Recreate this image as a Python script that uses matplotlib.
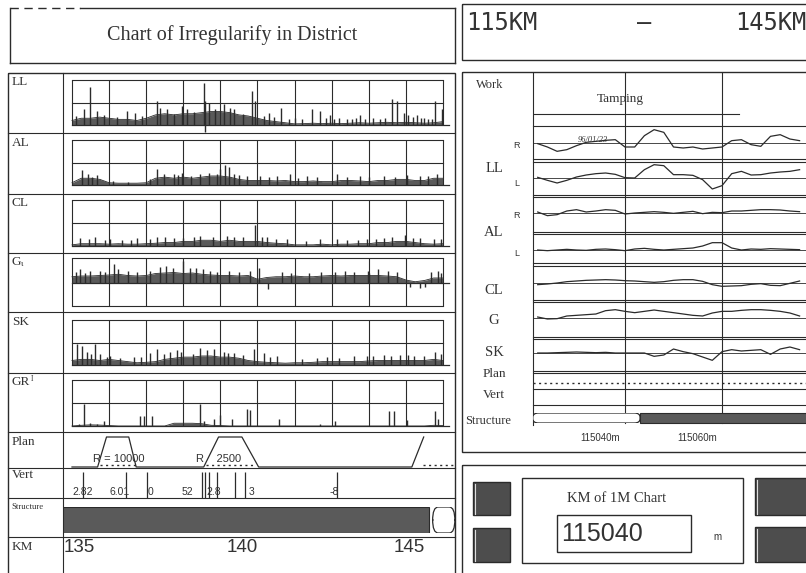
import matplotlib.pyplot as plt
import numpy as np
from matplotlib.patches import Rectangle, FancyBboxPatch

# ---------------- data ----------------
# left side: 135 km - 145 km, envelope sampled every 0.25 km
km_base = np.linspace(135, 145, 41)
km_ticks = np.arange(135, 146)

ll_base = [0.2, 0.3, 0.3, 0.35, 0.3, 0.25, 0.25, 0.2, 0.3, 0.45, 0.5, 0.45, 0.5, 0.5,
           0.55, 0.6, 0.6, 0.55, 0.45, 0.4, 0.3, 0.2, 0.15, 0.1, 0.05, 0.06, 0.08, 0.06,
           0.08, 0.06, 0.08, 0.1, 0.08, 0.1, 0.12, 0.1, 0.12, 0.1, 0.08, 0.1, 0.15]
ll_spike_km = [135.31, 135.48, 135.67, 136.48, 136.71, 137.29, 137.38, 137.56, 137.96,
               138.10, 138.55, 138.59, 138.59, 138.68, 139.09, 139.27, 139.36, 139.85,
               139.94, 140.17, 140.30, 140.62, 141.0, 141.2, 141.47, 141.69, 141.96,
               142.2, 142.4, 142.55, 142.77, 143.1, 143.3, 143.63, 143.76, 143.94,
               144.07, 144.30, 144.5, 144.6, 144.79, 144.97,
               135.1, 135.85, 136.2, 136.9, 137.75, 138.3, 138.85, 139.6, 140.45,
               140.85, 141.85, 142.05, 142.65, 142.9, 143.45, 144.2, 144.4, 144.7]
ll_spike_h = [0.69, 1.69, 0.62, 0.62, 0.54, 1.08, 0.77, 0.69, 0.85,
              0.69, 1.85, 1.08, -0.3, 1.0, 0.92, 0.77, 0.69, 1.49,
              1.08, 0.38, 0.54, 0.77, 0.3, 0.25, 0.69, 0.62, 0.46,
              0.3, 0.25, 0.25, 0.46, 0.3, 0.25, 1.15, 1.08, 0.54,
              0.46, 0.46, 0.3, 0.25, 1.08, 0.69,
              0.4, 0.45, 0.35, 0.4, 0.5, 0.6, 0.7, 0.5, 0.35,
              0.25, 0.3, 0.25, 0.3, 0.25, 0.3, 0.35, 0.3, 0.25]

al_base = [0.1, 0.3, 0.3, 0.25, 0.1, 0.08, 0.08, 0.08, 0.1, 0.3, 0.35, 0.3, 0.35, 0.3,
           0.35, 0.4, 0.4, 0.35, 0.25, 0.2, 0.2, 0.2, 0.18, 0.2, 0.15, 0.15, 0.18, 0.15,
           0.15, 0.2, 0.2, 0.18, 0.15, 0.2, 0.2, 0.25, 0.25, 0.2, 0.2, 0.3, 0.3]
al_spike_km = [135.27, 135.42, 135.67, 137.29, 137.47, 137.74, 137.96, 138.46, 138.68,
               139.00, 139.13, 139.22, 139.36, 139.72, 140.08, 140.53, 140.88, 141.33,
               142.14, 142.77, 143.40, 144.03, 144.39, 144.84,
               135.55, 136.1, 136.5, 137.1, 137.85, 138.2, 138.9, 139.5, 140.3,
               141.1, 141.6, 142.4, 143.0, 143.7, 144.6]
al_spike_h = [0.65, 0.5, 0.45, 0.73, 0.5, 0.5, 0.55, 0.5, 0.55,
              0.73, 0.9, 0.8, 0.5, 0.4, 0.4, 0.4, 0.5, 0.4,
              0.5, 0.4, 0.4, 0.45, 0.4, 0.5,
              0.35, 0.2, 0.15, 0.25, 0.45, 0.4, 0.5, 0.45, 0.35,
              0.3, 0.35, 0.35, 0.35, 0.35, 0.4]

cl_base = [0.05, 0.1, 0.1, 0.1, 0.08, 0.1, 0.08, 0.08, 0.1, 0.12, 0.15, 0.15, 0.2, 0.2,
           0.25, 0.25, 0.2, 0.25, 0.2, 0.2, 0.2, 0.15, 0.12, 0.1, 0.05, 0.05, 0.05, 0.08,
           0.05, 0.08, 0.08, 0.1, 0.1, 0.15, 0.15, 0.2, 0.2, 0.15, 0.1, 0.08, 0.1]
cl_spike_km = [135.22, 135.45, 135.63, 136.03, 136.35, 136.75, 137.29, 137.52, 137.74,
               138.46, 139.18, 139.36, 139.94, 140.12, 140.26, 140.80, 141.69, 142.14,
               142.95, 143.40, 143.63, 143.98, 144.39, 144.75,
               135.9, 136.6, 137.1, 138.0, 138.3, 138.8, 139.6, 140.5, 141.3,
               142.4, 142.7, 143.2, 144.2, 144.95]
cl_spike_h = [0.35, 0.3, 0.4, 0.3, 0.25, 0.35, 0.4, 0.4, 0.35,
              0.45, 0.45, 0.4, 0.9, 0.4, 0.4, 0.3, 0.3, 0.3,
              0.3, 0.35, 0.4, 0.5, 0.35, 0.3,
              0.25, 0.25, 0.3, 0.35, 0.4, 0.4, 0.4, 0.3, 0.2,
              0.25, 0.25, 0.3, 0.35, 0.3]

g_base = [0.25, 0.28, 0.28, 0.3, 0.32, 0.35, 0.3, 0.28, 0.3, 0.38, 0.4, 0.42, 0.38, 0.4,
          0.35, 0.32, 0.3, 0.3, 0.28, 0.3, 0.15, 0.22, 0.25, 0.25, 0.28, 0.25, 0.25, 0.28,
          0.3, 0.28, 0.3, 0.3, 0.3, 0.3, 0.28, 0.25, 0.12, 0.05, 0.1, 0.2, 0.2]
g_spike_km = [135.22, 135.49, 135.76, 136.12, 136.25, 136.74, 137.37, 137.54, 137.72,
              137.99, 138.17, 138.53, 138.71, 139.24, 140.04, 140.29, 140.67, 141.38,
              142.10, 142.37, 142.99, 143.26, 143.53, 143.75, 144.11, 144.38, 144.51,
              144.69, 144.87,
              135.1, 135.35, 135.9, 136.5, 137.1, 138.35, 138.9, 139.5, 139.8,
              140.9, 141.7, 142.6, 143.0, 144.95]
g_spike_h = [0.55, 0.5, 0.5, 0.75, 0.55, 0.45, 0.65, 0.7, 0.6,
             0.87, 0.6, 0.55, 0.5, 0.5, 0.6, -0.25, 0.45, 0.4,
             0.45, 0.5, 0.5, 0.55, 0.5, 0.45, -0.15, -0.2, -0.15,
             0.45, 0.5,
             0.45, 0.4, 0.45, 0.5, 0.5, 0.6, 0.45, 0.45, 0.5,
             0.4, 0.45, 0.45, 0.4, 0.4]

sk_base = [0.2, 0.25, 0.25, 0.2, 0.25, 0.2, 0.15, 0.1, 0.12, 0.15, 0.25, 0.3, 0.35, 0.35,
           0.4, 0.4, 0.35, 0.35, 0.3, 0.2, 0.15, 0.12, 0.1, 0.08, 0.1, 0.1, 0.12, 0.15,
           0.15, 0.15, 0.15, 0.15, 0.18, 0.2, 0.2, 0.2, 0.2, 0.2, 0.2, 0.25, 0.2]
sk_spike_km = [135.13, 135.27, 135.40, 135.63, 135.76, 136.03, 136.66, 137.11, 137.29,
               137.47, 137.65, 137.83, 138.46, 138.64, 138.82, 139.09, 139.36, 139.90,
               140.17, 140.53, 141.87, 142.59, 142.95, 143.40, 143.85, 144.21, 144.79,
               135.5, 135.95, 136.3, 136.85, 137.95, 138.25, 139.2, 139.6, 140.35,
               141.2, 141.6, 142.2, 143.1, 143.6, 144.05, 144.5, 144.95]
sk_spike_h = [0.95, 0.85, 0.6, 0.95, 0.5, 0.4, 0.35, 0.55, 0.7,
              0.5, 0.6, 0.65, 0.75, 0.65, 0.7, 0.6, 0.55, 0.7,
              0.55, 0.4, 0.35, 0.4, 0.4, 0.45, 0.45, 0.4, 0.6,
              0.5, 0.35, 0.3, 0.35, 0.6, 0.5, 0.55, 0.45, 0.35,
              0.25, 0.3, 0.3, 0.4, 0.4, 0.45, 0.4, 0.5]

gr_base = [0, 0.03, 0.05, 0.04, 0.02, 0, 0, 0, 0, 0, 0, 0.12, 0.12, 0.12,
           0.1, 0.03, 0.02, 0, 0, 0, 0, 0, 0, 0, 0, 0, 0, 0,
           0, 0, 0, 0, 0, 0, 0, 0, 0, 0, 0, 0.03, 0.02]
gr_spike_km = [135.18, 135.31, 135.49, 135.67, 135.85, 136.84, 136.95, 137.16, 138.44,
               138.55, 138.82, 139.00, 139.31, 139.72, 139.79, 140.57, 141.69, 142.10,
               143.54, 143.67, 144.03, 144.79, 144.86]
gr_spike_h = [0.1, 0.97, 0.12, 0.1, 0.2, 0.45, 0.45, 0.45, 0.97,
              0.2, 0.3, 0.5, 0.3, 0.74, 0.7, 0.3, 0.1, 0.2,
              0.66, 0.66, 0.28, 0.66, 0.3]

# plan (curvature) profile
plan_km = [135.0, 135.69, 135.93, 136.53, 136.73, 138.55, 138.95, 139.58, 140.03, 144.16, 144.48]
plan_lv = [0, 0, 1, 1, 0, 0, 1, 1, 0, 0, 1]
plan_dot_start = [135.75, 138.62, 144.45]
plan_dot_end = [136.75, 139.95, 145.3]
plan_radius = ['R = 10000', 'R    2500']
plan_radius_km = [136.25, 138.95]

# vertical (grade) changes
vert_km = [135.30, 136.46, 137.02, 138.50, 138.58, 138.70, 138.91, 139.39, 139.66, 142.14]
vert_labels = ['2.82', '6.01', '0', '52', '2.8', '3', '-8']
vert_label_km = [135.0, 136.02, 137.05, 137.96, 138.62, 139.77, 141.95]

# structure
struct_solid = (134.76, 144.62)
struct_open = (144.72, 145.32)

km_labels = ['135', '140', '145']

# right side: 1 m chart, 115022 m - 115076 m every 2 m
right_m = np.arange(115022, 115077, 2)
ll_r = [-0.2, -1.2, -2.5, -2.0, -0.8, 0.2, 0.5, 0.8, 1.0, -1.2, -1.2, 2.2, 4.0, 3.2,
        -1.2, -1.5, -1.2, -1.8, -1.5, -1.2, 0.7, 1.0, -0.5, -1.0, 2.0, 2.5, 1.2, 0.7]
ll_l = [0.2, -0.7, -1.5, -0.7, 0.3, 0.9, 1.3, 1.5, 1.1, 0.1, 0.0, 2.5, 4.0, 3.7,
        1.0, 1.0, 0.8, -0.5, -3.3, -2.3, 1.3, 2.0, 0.9, 1.0, 1.5, 1.8, 2.0, 2.5]
al_r = [0.3, -0.8, -0.5, 0.6, 1.0, 0.3, 0.6, 1.0, 0.8, -0.3, 0.0, 0.2, 0.4, 0.2,
        -0.1, 0.2, 0.5, -0.2, 0.2, 0.1, 0.6, 0.6, 0.8, 1.0, 1.0, 0.9, 0.6, 0.4]
al_l = [0.0, -0.2, 0.0, 0.2, 0.0, -0.1, 0.2, 0.3, 0.1, -0.2, 0.3, 0.5, 0.2, 0.0,
        0.2, 0.4, 0.6, 1.2, 2.2, 2.2, 0.6, 0.0, 0.3, 0.2, 0.4, 0.3, 0.2, 0.1]
cl_1m = [-0.5, -0.3, 0.0, 0.4, 0.6, 0.8, 0.9, 1.0, 0.9, 0.7, 0.6, 0.4, 0.2, 0.4,
         0.8, 1.0, 1.0, 0.5, -0.5, -1.0, -0.9, -0.8, -0.4, -0.2, -0.7, -0.8, -0.1, 0.6]
g_1m = [0.3, -0.3, -0.2, 0.6, 0.8, 1.0, 1.2, 2.2, 2.5, 2.0, 1.6, 2.0, 2.4, 2.0,
        1.6, 1.2, 0.8, 0.6, 1.5, 2.0, 2.0, 2.3, 2.5, 2.5, 2.3, 2.0, 1.5, 0.6]
sk_1m = [0.0, 0.0, 0.1, 0.2, 0.3, 0.2, 0.1, 0.2, 0.0, 0.0, 0.0, 0.0, -1.0, -0.6,
         1.2, 0.4, -0.2, -1.2, -2.2, 0.4, 1.0, 0.6, 0.8, 1.0, -0.4, 1.2, 1.8, 1.0]
right_grid = [115040, 115060]
work_name = 'Tamping'
work_date = '96/01/23'
work_span = (115021.0, 115063.5)
right_open = (115021.0, 115043.1)
right_solid = (115043.1, 115078.0)
chart_km = '115040'

# ---------------- drawing ----------------
W, H = 806, 573
ink = '#2b2b2b'
shade = '#5a5a5a'
txt = '#333333'
SERIF = 'Liberation Serif'
SANS = 'Liberation Sans'
MONO = 'DejaVu Sans Mono'

fig = plt.figure(figsize=(W / 100, H / 100), dpi=100)
fig.patch.set_facecolor('white')
bg = fig.add_axes([0, 0, 1, 1])
bg.set_xlim(0, W)
bg.set_ylim(H, 0)
bg.axis('off')


def box(x0, y0, x1, y1, lw=1.0, fc='none', ec=ink):
    bg.add_patch(Rectangle((x0, y0), x1 - x0, y1 - y0, fc=fc, ec=ec, lw=lw))


def hl(y, x0, x1, lw=0.8, ls='-'):
    bg.plot([x0, x1], [y, y], color=ink, lw=lw, ls=ls)


def vl(x, y0, y1, lw=0.8):
    bg.plot([x, x], [y0, y1], color=ink, lw=lw)


def sub_axes(x0, y0, x1, y1, xlim, ylim):
    ax = fig.add_axes([x0 / W, 1 - y1 / H, (x1 - x0) / W, (y1 - y0) / H])
    ax.set_xlim(*xlim)
    ax.set_ylim(*ylim)
    ax.axis('off')
    ax.patch.set_visible(False)
    return ax


# title boxes
hl(8, 10, 80, lw=1.0, ls=(0, (6, 4)))
hl(8, 80, 455, lw=1.0)
hl(63, 10, 455, lw=1.0)
vl(10, 8, 63, lw=1.0)
vl(455, 8, 63, lw=1.0)
bg.text(232, 35, 'Chart of Irregularifу in District', family=SERIF, fontsize=14.5,
        color=txt, ha='center', va='center')

box(462, 4, 812, 60)
bg.text(466, 23, '115KM', family=MONO, fontsize=17, color=txt, ha='left', va='center')
bg.text(644, 23, '–', family=MONO, fontsize=17, color=txt, ha='center', va='center')
bg.text(735, 23, '145KM', family=MONO, fontsize=17, color=txt, ha='left', va='center')

# ---- left chart ----
box(8, 73, 455, 578)
vl(63, 73, 573)
for y in [133, 194, 253, 312, 373, 432, 468, 498, 537]:
    hl(y, 8, 455)

row_labels = [('LL', 76), ('AL', 137), ('CL', 197), ('SK', 316), ('Plan', 436),
              ('Vert', 469), ('KM', 541)]
for lab, y in row_labels:
    bg.text(12, y, lab, family=SERIF, fontsize=9.5, color=txt, ha='left', va='top')
bg.text(12, 256, 'G', family=SERIF, fontsize=9.5, color=txt, ha='left', va='top')
bg.text(21, 260, 'ι', family=SERIF, fontsize=6.5, color=txt, ha='left', va='top')
bg.text(12, 376, 'GR', family=SERIF, fontsize=9.5, color=txt, ha='left', va='top')
bg.text(31, 375, 'I', family=SERIF, fontsize=5.5, color=txt, ha='left', va='top')
bg.text(11, 503, 'Structure', family=SERIF, fontsize=6.2, color=txt, ha='left', va='top')

left_xlim = (135 - 9 / 37.1, 135 + 383 / 37.1)


def panel(y0, y1, ylim, levels, base, sk, sh):
    ax = sub_axes(63, y0, 455, y1, left_xlim, ylim)
    for lv in levels:
        ax.plot([135, 145], [lv, lv], color=ink, lw=0.8, clip_on=False)
    ax.plot([135, 145.15], [0, 0], color=ink, lw=0.9, clip_on=False)
    ax.vlines(km_ticks, ylim[0], ylim[1], color=ink, lw=0.8, clip_on=False)
    ax.fill_between(km_base, 0, base, color=shade, lw=0, clip_on=False)
    ax.plot(km_base, base, color=ink, lw=0.6, clip_on=False)
    ax.vlines(sk, 0, sh, color=ink, lw=1.0, clip_on=False)
    return ax


panel(80, 125, (0, 2), [1, 2], ll_base, ll_spike_km, ll_spike_h)
panel(140, 185, (0, 2), [1, 2], al_base, al_spike_km, al_spike_h)
panel(200, 246, (0, 2), [1, 2], cl_base, cl_spike_km, cl_spike_h)
panel(258, 306, (-0.92, 1), [-0.92, 1], g_base, g_spike_km, g_spike_h)
panel(320, 365, (0, 2), [1, 2], sk_base, sk_spike_km, sk_spike_h)
panel(380, 426, (0, 2), [1, 2], gr_base, gr_spike_km, gr_spike_h)

# plan
ax = sub_axes(63, 437, 455, 467, left_xlim, (0, 1))
ax.plot(plan_km, plan_lv, color=ink, lw=0.9, clip_on=False)
ax.hlines([0.07] * len(plan_dot_start), plan_dot_start, plan_dot_end, color=ink,
          lw=1.0, ls=(0, (1.5, 2.5)), clip_on=False)
for lab, k in zip(plan_radius, plan_radius_km):
    ax.text(k, 0.25, lab, family=SANS, fontsize=8, color=txt, ha='center', va='center')

# vert
ax = sub_axes(63, 468, 455, 498, left_xlim, (0, 1))
ax.vlines(vert_km, 0, 0.87, color=ink, lw=0.9)
for lab, k in zip(vert_labels, vert_label_km):
    ax.text(k, 0.2, lab, family=SANS, fontsize=7.5, color=txt, ha='left', va='center')

# structure
ax = sub_axes(63, 507, 455, 533, left_xlim, (0, 1))
ax.add_patch(Rectangle((struct_solid[0], 0), struct_solid[1] - struct_solid[0], 1,
                       fc=shade, ec=ink, lw=0.8))
ax.add_patch(FancyBboxPatch((struct_open[0], 0), struct_open[1] - struct_open[0], 1,
                            boxstyle='round,pad=0,rounding_size=0.15',
                            mutation_aspect=3.5, fc='white', ec=ink, lw=0.9))

# km
ax = sub_axes(63, 537, 455, 573, left_xlim, (0, 1))
for lab, k in zip(km_labels, [135.2, 139.6, 144.1]):
    ax.text(k, 0.7, lab, family=SANS, fontsize=13.5, color=txt, ha='center', va='center')

# ---- right chart ----
box(462, 72, 812, 452)
vl(533, 73, 425)
for x in [625, 722]:
    vl(x, 73, 423)
hl(126, 533, 806)
for y in [159, 162, 195, 197, 232, 234, 263, 266, 300, 302, 337, 339, 371, 373, 389, 405]:
    hl(y, 533, 806, lw=0.8)

right_xlim = (115040 - 92 / 4.85, 115040 + 181 / 4.85)
s = 3.33   # px per unit


def strip(cy, vals):
    ax = sub_axes(533, cy - 15, 806, cy + 15, right_xlim, (-15 / s, 15 / s))
    ax.axhline(0, color=ink, lw=0.6)
    ax.plot(right_m, vals, color=ink, lw=0.9, clip_on=False)
    return ax


strip(143, ll_r)
strip(178, ll_l)
strip(213, al_r)
strip(250, al_l)
strip(283, cl_1m)
strip(318, g_1m)
strip(353, sk_1m)

# work row
ax = sub_axes(533, 95, 806, 120, right_xlim, (0, 1))
ax.plot(work_span, [0.24, 0.24], color=ink, lw=0.8)
ax.text(115039, 0.85, work_name, family=SERIF, fontsize=9.5, color=txt,
        ha='center', va='center')
bg.text(578, 140, work_date, family=SERIF, fontsize=6, color=txt, style='italic',
        ha='left', va='center')

# plan dotted, structure
ax = sub_axes(533, 378, 806, 388, right_xlim, (0, 1))
ax.axhline(0.5, color=ink, lw=1.0, ls=(0, (1.5, 2.5)))
ax = sub_axes(533, 413, 806, 423, right_xlim, (0, 1))
ax.add_patch(Rectangle((right_solid[0], 0), right_solid[1] - right_solid[0], 1,
                       fc=shade, ec=ink, lw=0.8, clip_on=False))
ax.add_patch(FancyBboxPatch((right_open[0], 0), right_open[1] - right_open[0], 1,
                            boxstyle='round,pad=0,rounding_size=1.2',
                            mutation_aspect=0.35, fc='white', ec=ink, lw=0.9))
ax = sub_axes(533, 428, 806, 448, right_xlim, (0, 1))
for g in right_grid:
    ax.text(g - 1.0, 0.5, f'{g}m', family=SANS, fontsize=7, color=txt,
            ha='right', va='center')

right_labels = [('Work', 476, 85, 9, 'left'), ('LL', 494, 168, 10.5, 'center'),
                ('AL', 494, 233, 10.5, 'center'), ('CL', 494, 290, 10.5, 'center'),
                ('G', 494, 320, 10.5, 'center'), ('SK', 494, 352, 10.5, 'center'),
                ('Plan', 494, 374, 9.5, 'center'), ('Vert', 494, 395, 9.5, 'center'),
                ('Structure', 465, 421, 9, 'left')]
for lab, x, y, fs, ha in right_labels:
    bg.text(x, y, lab, family=SERIF, fontsize=fs, color=txt, ha=ha, va='center')
for lab, y in [('R', 145), ('L', 183), ('R', 215), ('L', 253)]:
    bg.text(517, y, lab, family=SANS, fontsize=6.5, color=txt, ha='center', va='center')

# ---- bottom-right control box ----
box(462, 465, 812, 578)
for x0, y0, x1, y1 in [(473, 482, 510, 515), (473, 528, 510, 562),
                       (755, 478, 812, 515), (755, 527, 812, 562)]:
    box(x0, y0, x1, y1, fc='#4d4d4d', lw=1.0)
    bg.plot([x0 + 2, x0 + 2], [y0 + 2, y1 - 1], color='#dddddd', lw=0.8)
box(522, 478, 743, 563)
bg.text(617, 499, 'KM of 1M Chart', family=SERIF, fontsize=10.5, color=txt,
        ha='center', va='center')
box(557, 515, 691, 552)
bg.text(561, 534, chart_km, family=SANS, fontsize=18, color=txt, ha='left', va='center')
bg.text(717, 537, 'm', family=SANS, fontsize=7, color=txt, ha='center', va='center')

fig.savefig('out.png', dpi=100)
